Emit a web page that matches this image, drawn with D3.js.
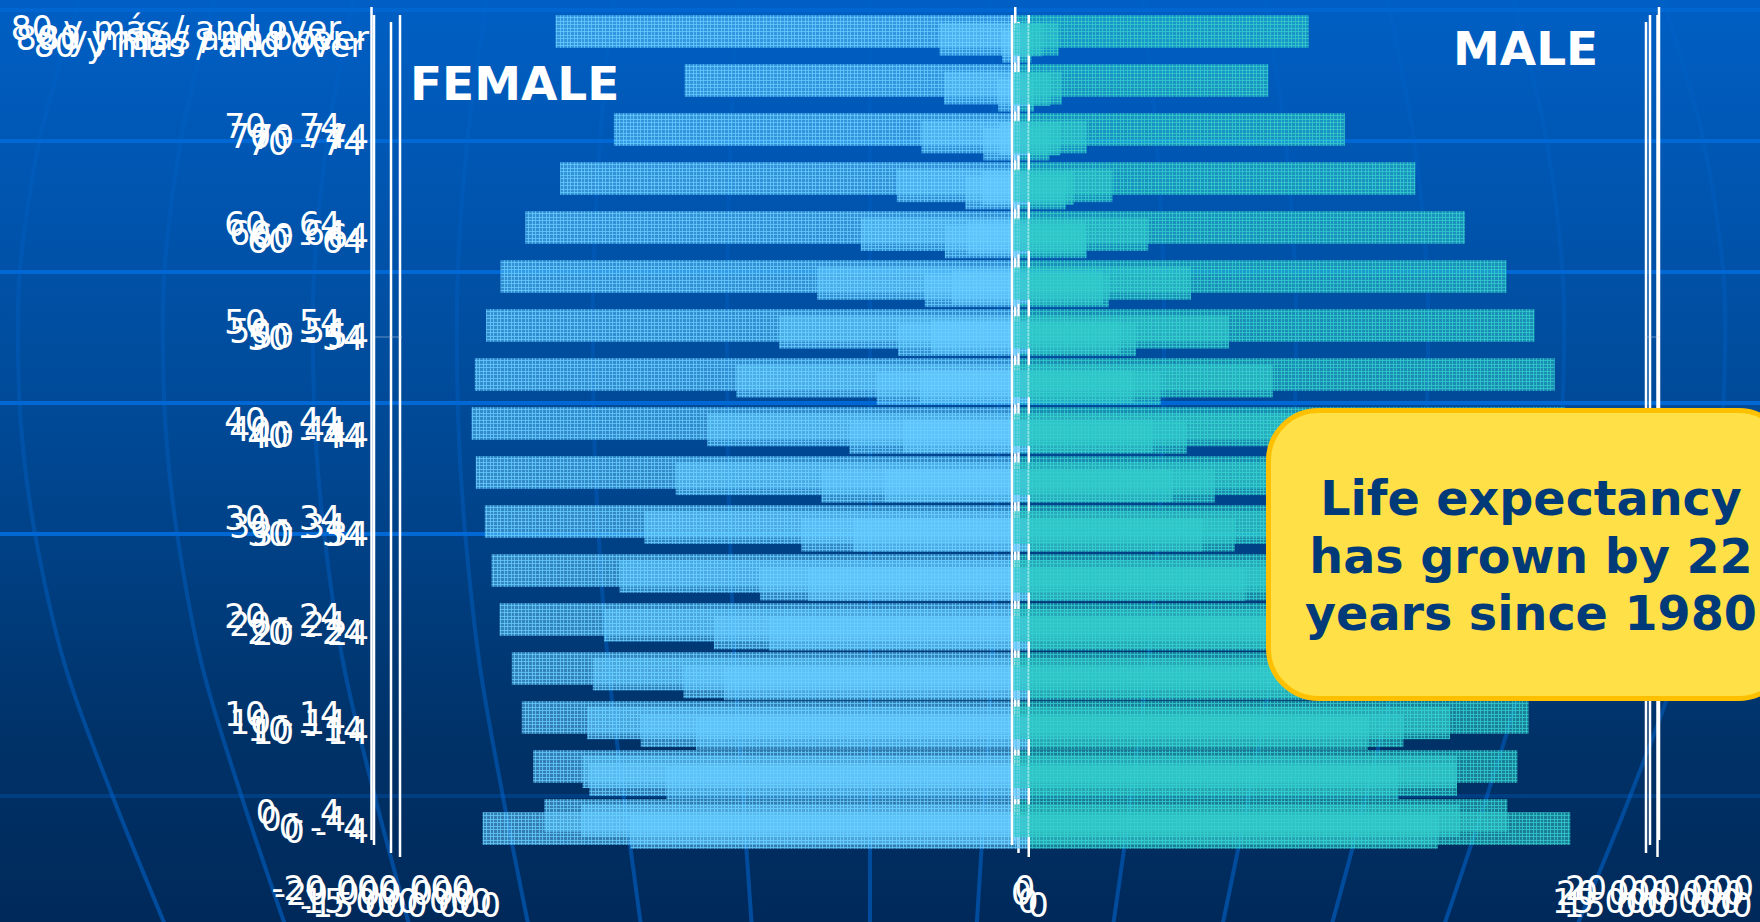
<!DOCTYPE html>
<html>
<head>
<meta charset="utf-8">
<script src="https://cdn.jsdelivr.net/npm/d3@7"></script>
<style>
  html, body { margin: 0; padding: 0; background: #003a78; overflow: hidden; }
  svg { display: block; }
  text { font-family: "DejaVu Sans", sans-serif; white-space: pre; }
</style>
</head>
<body>
<svg id="chart" width="1760" height="922"></svg>
<script>
// Age groups, youngest first
const ageGroups = ["0 -  4","5 - 9","10 - 14","15 - 19","20 - 24","25 - 29","30 - 34","35 - 39","40 - 44",
  "45 - 49","50 - 54","55 - 59","60 - 64","65 - 69","70 - 74","75 - 79","80 y más / and over"];
const labelledAges = ageGroups.filter((d, i) => i % 2 === 0);

// Population in millions for each period, same order as ageGroups
const femaleEarliest = [9.50,8.64,7.94,7.27,6.20,5.26,4.19,3.44,2.99,2.59,2.32,1.84,1.46,1.11,0.71,0.44,0.31];
const maleEarliest   = [9.76,8.82,8.09,7.18,6.24,5.17,4.15,3.43,2.97,2.50,2.17,1.77,1.34,1.07,0.75,0.51,0.33];
const femaleSecond   = [12.81,10.26,9.03,8.01,7.28,6.18,5.19,4.71,4.04,3.39,2.88,2.24,1.76,1.27,0.84,0.49,0.39];
const maleSecond     = [13.19,10.48,9.20,8.04,7.32,6.22,5.17,4.69,4.02,3.40,2.81,2.16,1.63,1.13,0.74,0.37,0.31];
const femaleThird    = [13.50,13.46,13.32,13.14,12.79,12.30,11.52,10.54,9.55,8.64,7.30,6.11,4.74,3.61,2.84,2.13,2.27];
const maleThird      = [14.02,13.95,13.73,13.31,12.43,11.73,11.03,10.04,9.09,8.18,6.80,5.61,4.27,3.15,2.34,1.56,1.46];
const femaleLatest   = [14.63,14.98,15.33,15.64,16.02,16.27,16.48,16.76,16.89,16.79,16.44,15.99,15.22,14.14,12.47,10.27,14.28];
const maleLatest     = [15.29,15.60,15.95,16.30,16.60,16.85,17.00,17.10,17.07,16.76,16.13,15.26,13.97,12.43,10.24,7.86,9.12];

// Each pyramid occupies its own slightly offset plot frame; drawn back to front
const pyramids = [
  { id: "latest",   female: femaleLatest,   male: maleLatest,   range: 20, left: 371.5, right: 1659,   top: 7,  bottom: 840, labelRight: 341, labelShift: -2, axisY: 877 },
  { id: "second",   female: femaleSecond,   male: maleSecond,   range: 15, left: 391,   right: 1646,   top: 22, bottom: 853, labelRight: 364, labelShift: 0,  axisY: 890 },
  { id: "earliest", female: femaleEarliest, male: maleEarliest, range: 15, left: 400,   right: 1657.5, top: 15, bottom: 857, labelRight: 369, labelShift: 0,  axisY: 894 },
  { id: "third",    female: femaleThird,    male: maleThird,    range: 20, left: 374,   right: 1650,   top: 15, bottom: 845, labelRight: 346, labelShift: 0,  axisY: 882 }
];

const femaleColor = "#66ccff", maleColor = "#33cccc";
const svg = d3.select("#chart");
const defs = svg.append("defs");

const bg = defs.append("linearGradient").attr("id", "sky").attr("x1", 0).attr("x2", 0).attr("y1", 0).attr("y2", 1);
[[0, "#005fc4"], [0.5, "#004792"], [0.8, "#003268"], [1, "#00295a"]].forEach(([o, c]) =>
  bg.append("stop").attr("offset", o).attr("stop-color", c));

// Meridians fade out towards the top of the page
const fade = defs.append("linearGradient").attr("id", "meridianFade").attr("gradientUnits", "userSpaceOnUse")
  .attr("x1", 0).attr("x2", 0).attr("y1", 0).attr("y2", 922);
[[0, 0.16], [0.45, 0.3], [1, 0.55]].forEach(([o, a]) =>
  fade.append("stop").attr("offset", o).attr("stop-color", "#0068d4").attr("stop-opacity", a));

// Woven fill: a translucent ground with a lighter lattice, so overlapping bars build up to solid colour
function weave(id, color) {
  const p = defs.append("pattern").attr("id", id).attr("patternUnits", "userSpaceOnUse")
    .attr("width", 7).attr("height", 7);
  p.append("rect").attr("width", 7).attr("height", 7).attr("fill", color).attr("opacity", 0.5);
  [0, 3].forEach(o => {
    p.append("rect").attr("x", o).attr("width", 1).attr("height", 7).attr("fill", color).attr("opacity", 0.75);
    p.append("rect").attr("y", o).attr("width", 7).attr("height", 1).attr("fill", color).attr("opacity", 0.75);
  });
}
weave("weaveFemale", femaleColor);
weave("weaveMale", maleColor);

// Backdrop: gradient, latitude bands and curved meridians
svg.append("rect").attr("width", 1760).attr("height", 922).attr("fill", "url(#sky)");

const latitudes = [10, 141, 272, 403, 534, 796];
const latitudeOpacity = [0.75, 1, 1, 1, 1, 0.28];
svg.append("g").selectAll("rect").data(latitudes).join("rect")
  .attr("x", 0).attr("width", 1760).attr("y", d => d - 2).attr("height", 4)
  .attr("fill", "#0068d4").attr("opacity", (d, i) => latitudeOpacity[i]);

const meridianCentre = 870;
const meridianOffsets = [-852, -707, -557, -413, -277, -143, 0, 129, 294, 426, 558, 694, 855];
const meridianProfile = [[-20, .92], [76, .955], [141, .975], [272, .998], [353, 1], [441, .995], [534, .98], [665, .945], [794, .89], [940, .82]];
const meridianPath = d3.line().curve(d3.curveCatmullRom);
svg.append("g").attr("fill", "none").attr("stroke", "url(#meridianFade)").attr("stroke-width", 4)
  .selectAll("path").data(meridianOffsets).join("path")
  .attr("d", k => meridianPath(meridianProfile.map(([y, f]) => [meridianCentre + k * f, y])));

// Pyramids
const groupFormat = d3.formatLocale({ decimal: ".", thousands: " ", grouping: [3], currency: ["", ""], minus: "-" }).format(",");

pyramids.forEach(p => {
  const g = svg.append("g").attr("class", "pyramid-" + p.id);
  const x = d3.scaleLinear().domain([-p.range * 1e6, p.range * 1e6]).range([p.left, p.right]);
  const y = d3.scaleBand().domain(ageGroups).range([p.bottom, p.top]).paddingInner(1 / 3).paddingOuter(1 / 6);

  const rows = ageGroups.map((age, i) => ({ age, f: p.female[i] * 1e6, m: p.male[i] * 1e6 }));
  g.append("g").selectAll("rect").data(rows).join("rect")
    .attr("x", d => x(-d.f)).attr("width", d => x(0) - x(-d.f))
    .attr("y", d => y(d.age)).attr("height", y.bandwidth())
    .attr("fill", "url(#weaveFemale)");
  g.append("g").selectAll("rect").data(rows).join("rect")
    .attr("x", x(0)).attr("width", d => x(d.m) - x(0))
    .attr("y", d => y(d.age)).attr("height", y.bandwidth())
    .attr("fill", "url(#weaveMale)");

  // Frame: left edge, zero line, right edge
  g.append("g").attr("stroke", "#fff").attr("stroke-width", 2.5)
    .selectAll("line").data([-p.range * 1e6, 0, p.range * 1e6]).join("line")
    .attr("x1", d => x(d)).attr("x2", d => x(d)).attr("y1", p.top).attr("y2", p.bottom);

  const yAxis = g.append("g").attr("transform", `translate(${p.labelRight},${p.labelShift})`)
    .call(d3.axisLeft(y).tickValues(labelledAges).tickSize(0).tickPadding(0));
  yAxis.select(".domain").remove();

  const xAxis = g.append("g").attr("transform", `translate(0,${p.axisY})`)
    .call(d3.axisBottom(x).tickValues([-p.range * 1e6, 0, p.range * 1e6]).tickFormat(groupFormat).tickSize(0).tickPadding(0));
  xAxis.select(".domain").remove();
  xAxis.selectAll(".tick").filter(d => d === 0).select("text").attr("dx", 9);

  g.selectAll(".tick text").attr("fill", "#fff").style("font-size", "33px").style("font-family", '"DejaVu Sans", sans-serif');
});

// Thin tick crossing the outer frames
const crossTicks = [[375, 402], [1645, 1660]];
svg.append("g").attr("stroke", "#c8d4e4").attr("stroke-width", 1).attr("opacity", 0.5)
  .selectAll("line").data(crossTicks).join("line")
  .attr("x1", d => d[0]).attr("x2", d => d[1]).attr("y1", 337).attr("y2", 337);

// Side headings
const headings = [{ t: "FEMALE", x: 410, y: 100 }, { t: "MALE", x: 1453, y: 65 }];
svg.append("g").selectAll("text").data(headings).join("text")
  .attr("x", d => d.x).attr("y", d => d.y).text(d => d.t)
  .attr("fill", "#fff").attr("font-weight", "bold").attr("font-size", 47);

// Callout
const callout = svg.append("g");
callout.append("rect").attr("x", 1268.5).attr("y", 410.5).attr("width", 520).attr("height", 288).attr("rx", 50)
  .attr("fill", "#ffe047").attr("stroke", "#ffc000").attr("stroke-width", 5);
const calloutLines = ["Life expectancy", "has grown by 22", "years since 1980"];
callout.selectAll("text").data(calloutLines).join("text")
  .attr("x", 1531).attr("y", (d, i) => 515 + i * 57.5).attr("text-anchor", "middle")
  .attr("fill", "#003a78").attr("font-weight", "bold").attr("font-size", 47.6).text(d => d);
</script>
</body>
</html>
